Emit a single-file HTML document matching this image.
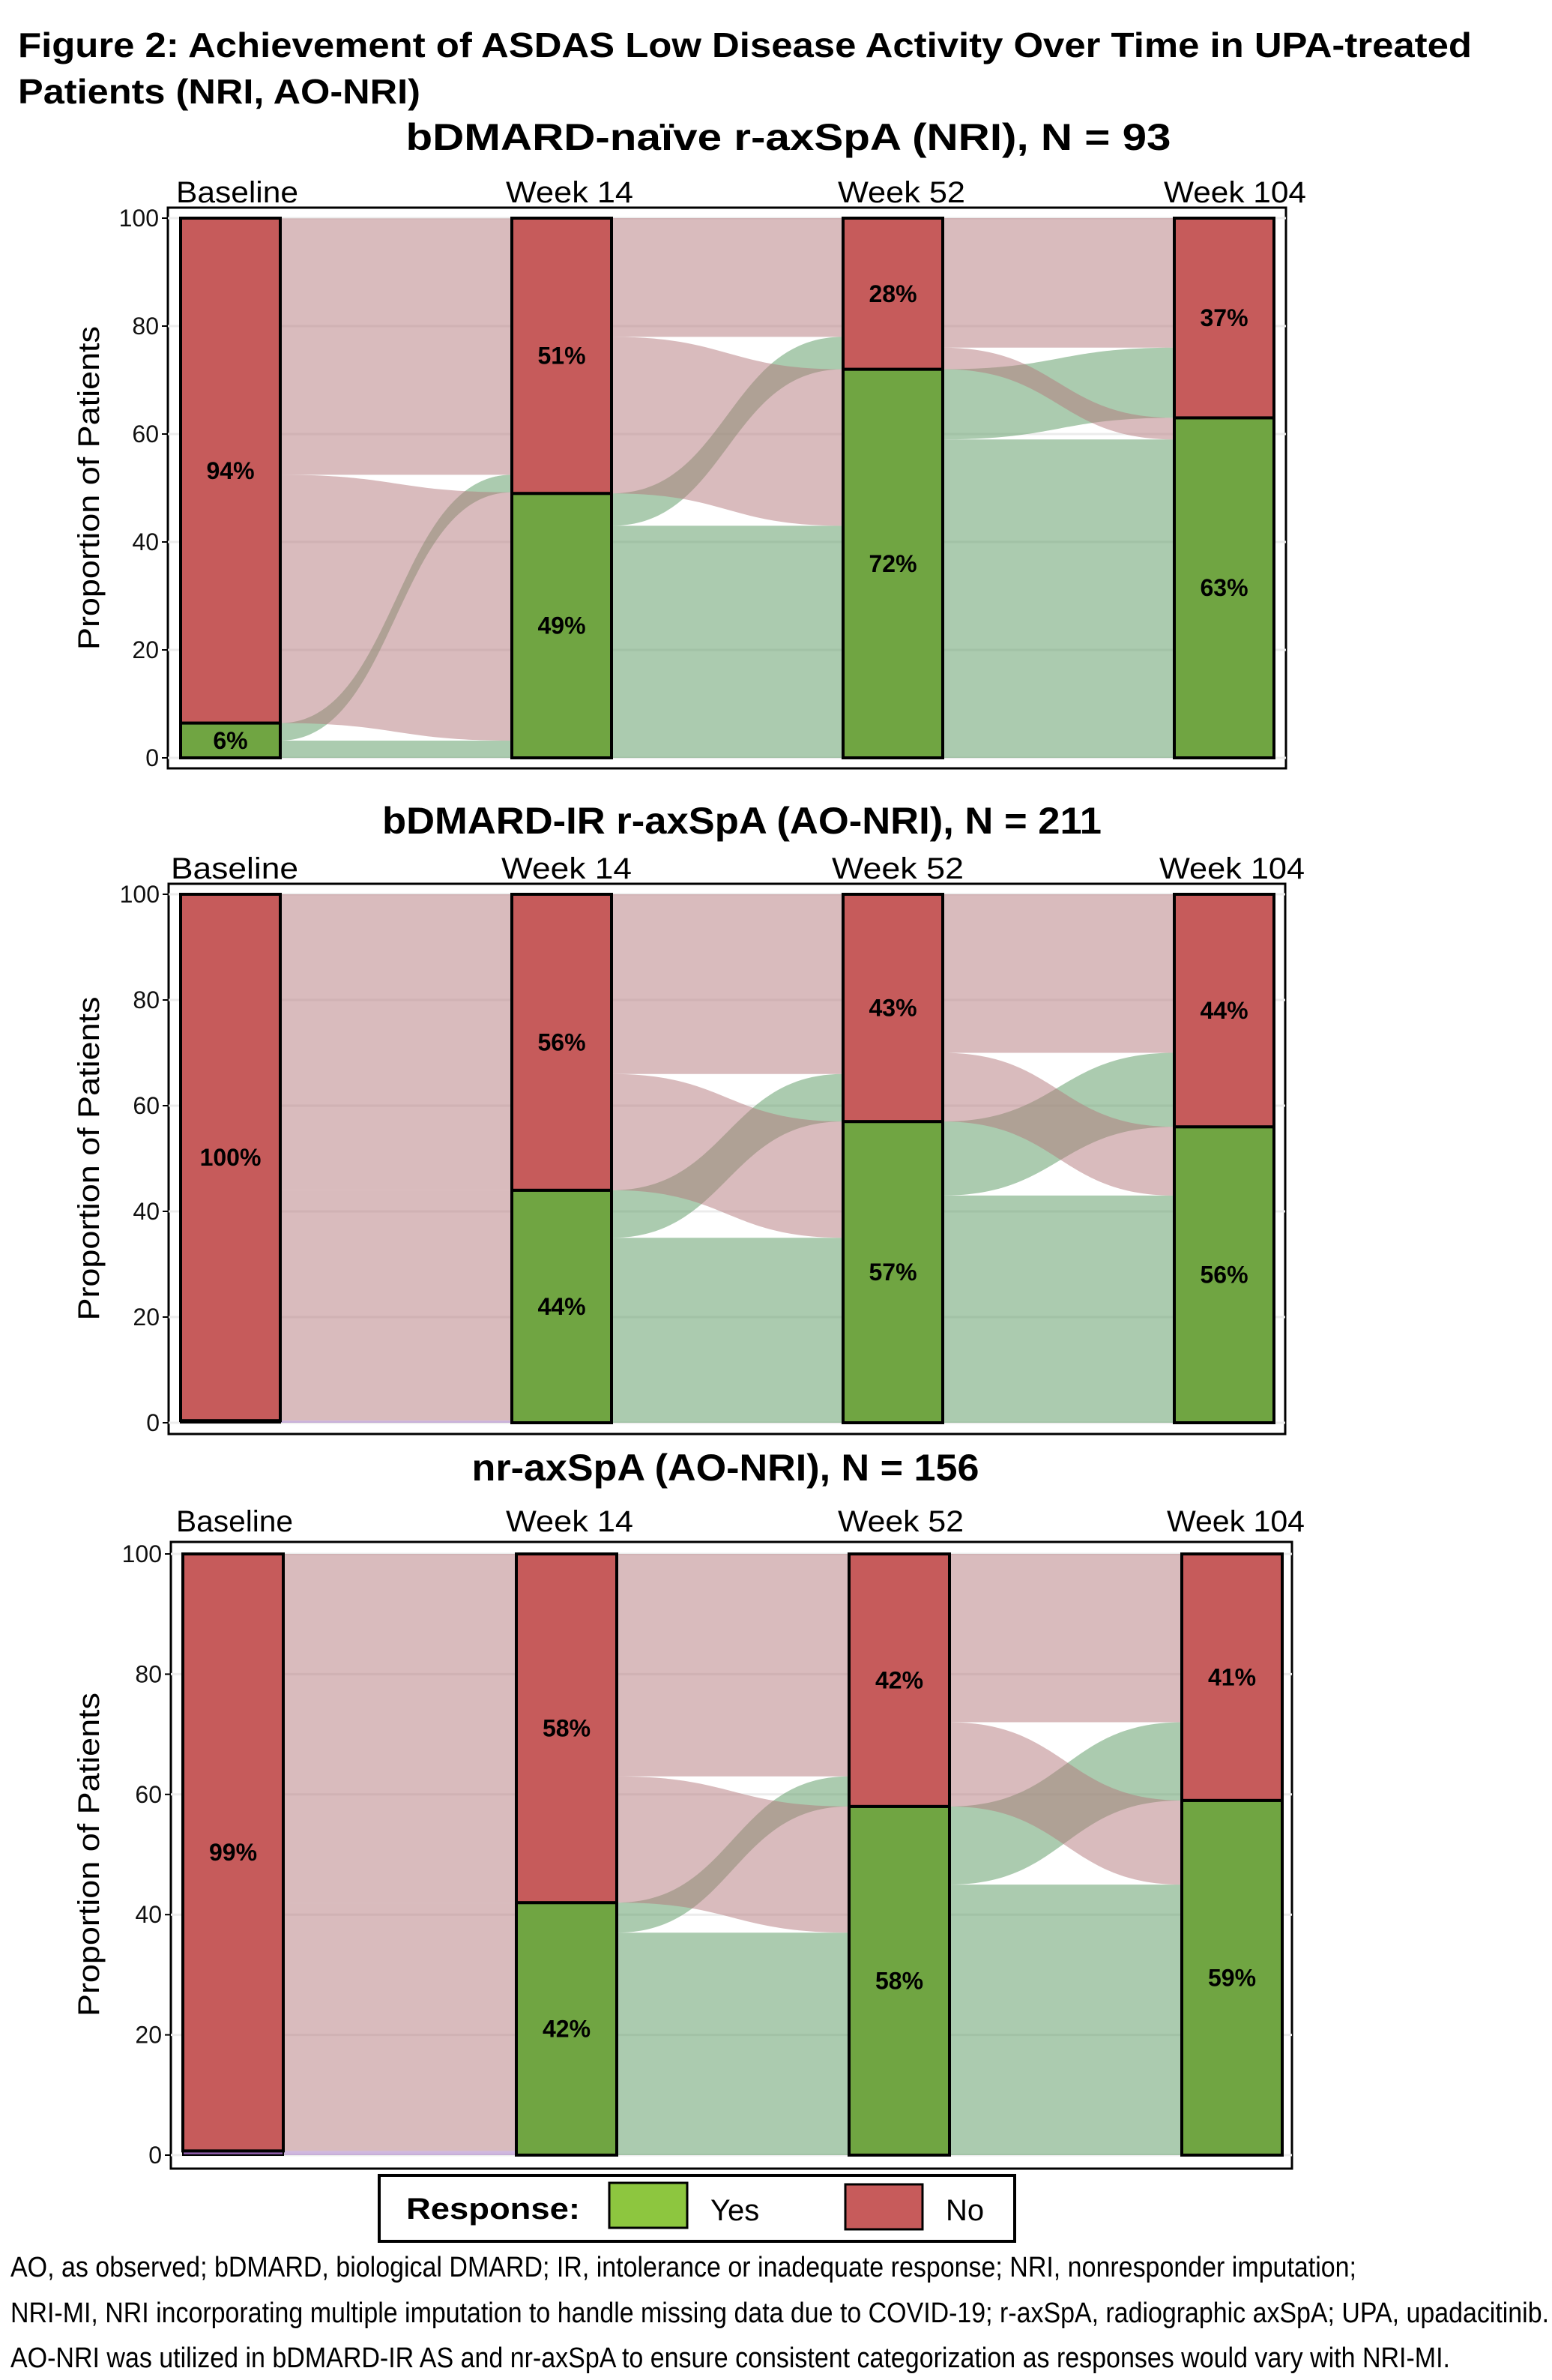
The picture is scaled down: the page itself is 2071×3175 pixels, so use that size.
<!DOCTYPE html>
<html><head><meta charset="utf-8">
<style>
html,body{margin:0;padding:0;background:#fff;}
svg{display:block;font-family:"Liberation Sans",Arial,sans-serif;}
</style></head>
<body>
<svg id="fig" width="2071" height="3175" viewBox="0 0 2071 3175" xmlns="http://www.w3.org/2000/svg">
<rect width="2071" height="3175" fill="#fff"/>
<text x="24" y="76" font-size="46" font-weight="bold" textLength="1940" lengthAdjust="spacingAndGlyphs">Figure 2: Achievement of ASDAS Low Disease Activity Over Time in UPA-treated</text>
<text x="24" y="138" font-size="46" font-weight="bold" textLength="537" lengthAdjust="spacingAndGlyphs">Patients (NRI, AO-NRI)</text>
<g id="panels"></g>
<g>
<rect x="506" y="2902" width="848" height="88" fill="#fff" stroke="#000" stroke-width="4"/>
<text x="542" y="2960" font-size="40" font-weight="bold" textLength="232" lengthAdjust="spacingAndGlyphs">Response:</text>
<rect x="813" y="2912" width="104" height="60" fill="#8dc63f" stroke="#000" stroke-width="3"/>
<text x="948" y="2962" font-size="40">Yes</text>
<rect x="1128" y="2914" width="103" height="60" fill="#c75b5b" stroke="#000" stroke-width="3"/>
<text x="1262" y="2962" font-size="40">No</text>
</g>
<text x="14" y="3037" font-size="38" textLength="1796" lengthAdjust="spacingAndGlyphs">AO, as observed; bDMARD, biological DMARD; IR, intolerance or inadequate response; NRI, nonresponder imputation;</text>
<text x="14" y="3098" font-size="38" textLength="2053" lengthAdjust="spacingAndGlyphs">NRI-MI, NRI incorporating multiple imputation to handle missing data due to COVID-19; r-axSpA, radiographic axSpA; UPA, upadacitinib.</text>
<text x="14" y="3158" font-size="38" textLength="1921" lengthAdjust="spacingAndGlyphs">AO-NRI was utilized in bDMARD-IR AS and nr-axSpA to ensure consistent categorization as responses would vary with NRI-MI.</text>
</svg>
<script>
// ---- data ----
const timepoints = ['Baseline','Week 14','Week 52','Week 104'];
const yTicks = [0,20,40,60,80,100];
// panel 1: bDMARD-naive r-axSpA (NRI)
const p1Miss = [0,0,0,0];
const p1Yes = [6.45,49,72,63];
const p1YesLbl = ['6%','49%','72%','63%'];
const p1NoLbl = ['94%','51%','28%','37%'];
const p1MY = [0,0,0];
const p1YY = [3.2,43,59];
const p1YN = [3.25,6,13];
const p1NY = [46,29,4];
const p1NN = [47.5,22,24];
// panel 2: bDMARD-IR r-axSpA (AO-NRI)
const p2Miss = [0.4,0,0,0];
const p2Yes = [0,44,57,56];
const p2YesLbl = ['','44%','57%','56%'];
const p2NoLbl = ['100%','56%','43%','44%'];
const p2MY = [0.4,0,0];
const p2YY = [0,35,43];
const p2YN = [0,9,14];
const p2NY = [43.6,22,13];
const p2NN = [56,34,30];
// panel 3: nr-axSpA (AO-NRI)
const p3Miss = [0.7,0,0,0];
const p3Yes = [0,42,58,59];
const p3YesLbl = ['','42%','58%','59%'];
const p3NoLbl = ['99%','58%','42%','41%'];
const p3MY = [0.7,0,0];
const p3YY = [0,37,45];
const p3YN = [0,5,13];
const p3NY = [41.3,21,14];
const p3NN = [58,37,28];

const NS='http://www.w3.org/2000/svg';
const root=document.getElementById('panels');
function mk(tag,attrs,parent){const e=document.createElementNS(NS,tag);for(const k in attrs)e.setAttribute(k,attrs[k]);(parent||root).appendChild(e);return e;}

const layouts=[
 {title:'bDMARD-naïve r-axSpA (NRI), N = 93',tx:1052,ty:200,tl:1021,fl:224,fr:1716,ft:277,fb:1025,y100:291,y0:1011,bx:[241,683,1125,1567],bw:133,lby:270,
  lx:[[235,163],[675,170],[1118,170],[1553,190]],miss:p1Miss,yes:p1Yes,yl:p1YesLbl,nl:p1NoLbl,my:p1MY,yy:p1YY,yn:p1YN,ny:p1NY,nn:p1NN},
 {title:'bDMARD-IR r-axSpA (AO-NRI), N = 211',tx:990,ty:1112,tl:960,fl:225,fr:1715,ft:1179,fb:1913,y100:1193,y0:1898,bx:[241,683,1125,1567],bw:133,lby:1172,
  lx:[[228,170],[669,174],[1110,176],[1547,194]],miss:p2Miss,yes:p2Yes,yl:p2YesLbl,nl:p2NoLbl,my:p2MY,yy:p2YY,yn:p2YN,ny:p2NY,nn:p2NN},
 {title:'nr-axSpA (AO-NRI), N = 156',tx:968,ty:1975,tl:677,fl:228,fr:1724,ft:2057,fb:2893,y100:2073,y0:2875,bx:[244,689,1133,1577],bw:134,lby:2043,
  lx:[[235,156],[675,170],[1118,168],[1557,184]],miss:p3Miss,yes:p3Yes,yl:p3YesLbl,nl:p3NoLbl,my:p3MY,yy:p3YY,yn:p3YN,ny:p3NY,nn:p3NN}
];

const PINK='#b4787c',GREEN='#58985f',PURPLE='#a070c0';
layouts.forEach((L,pi)=>{
  const g=mk('g',{});
  
  
  const Y=v=>L.y0-(L.y0-L.y100)*v/100;
  const t=mk('text',{x:L.tx,y:L.ty,'font-size':50,'font-weight':'bold','text-anchor':'middle',textLength:L.tl,lengthAdjust:'spacingAndGlyphs'},g);
  t.textContent=L.title;
  
  
  // frame
  const fr=mk('rect',{x:L.fl,y:L.ft,width:L.fr-L.fl,height:L.fb-L.ft,fill:'#fff',stroke:'#000','stroke-width':3},g);
  
  
  // grid & ticks
  yTicks.forEach(v=>{
    const gl=mk('line',{x1:L.fl,x2:L.fr,y1:Y(v),y2:Y(v),stroke:'#ececec','stroke-width':3},g);
    
    
    const tk=mk('line',{x1:L.fl-8,x2:L.fl,y1:Y(v),y2:Y(v),stroke:'#000','stroke-width':2},g);
    
    
    const tl=mk('text',{x:L.fl-12,y:Y(v)+11,'font-size':32,'text-anchor':'end',fill:'#111'},g);
    tl.textContent=String(v);
    
    
  });
  const yt=mk('text',{x:0,y:0,'font-size':40,'text-anchor':'middle',transform:`translate(132,${(L.y0+L.y100)/2}) rotate(-90)`,textLength:432,lengthAdjust:'spacingAndGlyphs'},g);
  yt.textContent='Proportion of Patients';
  
  
  // column labels
  timepoints.forEach((tp,i)=>{
    const c=mk('text',{x:L.lx[i][0],y:L.lby,'font-size':40,textLength:L.lx[i][1],lengthAdjust:'spacingAndGlyphs'},g);
    c.textContent=tp;
    
    
  });
  // flows
  for(let i=0;i<3;i++){
    const x1=L.bx[i]+L.bw,x2=L.bx[i+1],xm=(x1+x2)/2;
    // source stacks: miss, yes, no ; each by target yes, no
    let s=0;
    const src=[];
    src.push({f:L.my[i],to:'y',c:PURPLE});s=0;
    const list=[{v:L.my[i],to:'y',c:PURPLE,from:'m'},{v:L.yy[i],to:'y',c:GREEN,from:'y'},{v:L.yn[i],to:'n',c:GREEN,from:'y'},{v:L.ny[i],to:'y',c:PINK,from:'n'},{v:L.nn[i],to:'n',c:PINK,from:'n'}];
    let sy=0;list.forEach(f=>{f.s0=sy;sy+=f.v;f.s1=sy;});
    let ty=0;['y','n'].forEach(tg=>{list.filter(f=>f.to===tg).forEach(f=>{f.t0=ty;ty+=f.v;f.t1=ty;});});
    list.forEach(f=>{
      if(f.v<=0)return;
      const d=`M${x1},${Y(f.s1)} C${xm},${Y(f.s1)} ${xm},${Y(f.t1)} ${x2},${Y(f.t1)} L${x2},${Y(f.t0)} C${xm},${Y(f.t0)} ${xm},${Y(f.s0)} ${x1},${Y(f.s0)} Z`;
      const p=mk('path',{d:d,fill:f.c,'fill-opacity':0.5},g);
      
      
    });
  }
  // bars
  for(let i=0;i<4;i++){
    const m=L.miss[i],y=L.yes[i];
    if(m>0){
      const r=mk('rect',{x:L.bx[i],y:Y(m),width:L.bw,height:Y(0)-Y(m),fill:'#8a5aa6',stroke:'#000','stroke-width':2},g);
      
      
    }
    if(y>0){
      const r=mk('rect',{x:L.bx[i],y:Y(m+y),width:L.bw,height:Y(m)-Y(m+y),fill:'#70a542',stroke:'#000','stroke-width':4},g);
      
      
    }
    const r2=mk('rect',{x:L.bx[i],y:Y(100),width:L.bw,height:Y(m+y)-Y(100),fill:'#c65b5b',stroke:'#000','stroke-width':4},g);
    
    
    const cx=L.bx[i]+L.bw/2;
    if(L.yl[i]){
      const t1=mk('text',{x:cx,y:(Y(m)+Y(m+y))/2+11,'font-size':32,'font-weight':'bold','text-anchor':'middle'},g);
      t1.textContent=L.yl[i];
      
      
    }
    const t2=mk('text',{x:cx,y:(Y(m+y)+Y(100))/2+11,'font-size':32,'font-weight':'bold','text-anchor':'middle'},g);
    t2.textContent=L.nl[i];
    
    
  }
});
</script>
</body></html>
